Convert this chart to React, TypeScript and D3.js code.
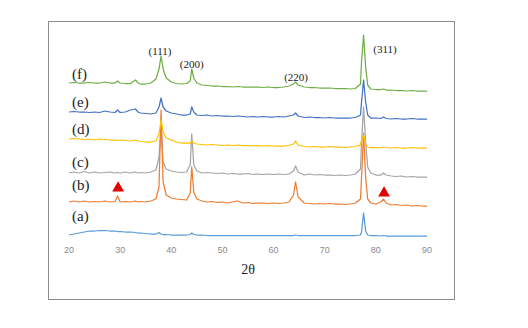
import React from 'react'
import * as d3 from 'd3'

// 2θ sample positions shared by all patterns
const theta = [
  20, 21, 22, 23, 24, 25, 26, 27, 28, 29,
  29.5, 30, 31, 32, 33, 33.5, 34, 35, 36, 37,
  37.6, 38, 38.4, 39, 40, 41, 42, 43, 43.7, 44,
  44.4, 45, 46, 47, 48, 49, 50, 51, 52, 53,
  54, 55, 56, 57, 58, 59, 60, 61, 62, 63,
  63.9, 64.3, 64.8, 66, 67, 68, 69, 70, 71, 72,
  73, 74, 75, 76, 77, 77.2, 77.6, 78, 78.4, 79,
  80, 81, 81.5, 82, 83, 84, 85, 86, 87, 88, 89, 90,
]

// intensities (offset, arbitrary units)
const seriesA = [
  2, 3, 4, 5, 6, 6, 6.5, 6.5, 6, 6,
  5.5, 5.5, 5, 5, 4.5, 4, 4, 3.5, 3, 3,
  4.5, 3, 2.5, 2.5, 2, 2, 2, 2, 2.5, 4,
  2.5, 2, 2, 1.5, 1.5, 1.5, 1.5, 1.5, 1.5, 1.5,
  1.5, 1.5, 1.5, 1.5, 1.5, 1.5, 1.5, 1.5, 1.5, 1.5,
  1.5, 2, 1.5, 1.5, 1.5, 1.5, 1.5, 1.5, 1.5, 1.5,
  1.5, 1.5, 1.5, 1.5, 2, 5, 24, 6, 2, 1.5,
  1.5, 1, 1.5, 1, 1, 1, 1, 1, 1, 1, 1, 1,
]
const seriesB = [
  35, 36, 35, 36, 35, 35.5, 35, 36, 35, 35.5,
  41, 35, 35.5, 35, 36, 35, 35.5, 35, 36, 38,
  50, 127, 55, 42, 39, 38, 37.5, 37, 44, 70,
  45, 38, 36, 35, 35.5, 34.5, 35, 34, 35, 36,
  34, 34.5, 33.5, 34, 34, 33.5, 34, 33.5, 34, 35,
  42, 55, 40, 34, 33.5, 33, 33.5, 33, 33.5, 33,
  33, 32.5, 33, 34, 38, 60, 104, 60, 38, 34,
  33, 35, 38, 34, 32, 32.5, 31.5, 32, 31, 31.5, 31, 31,
]
const seriesC = [
  64, 65, 64, 65.5, 64, 65, 64, 64.5, 65, 64,
  64.5, 64, 65, 64, 65, 64, 64.5, 64, 65, 67,
  80, 110, 75, 68, 66, 65, 64.5, 65, 72, 103,
  72, 66, 64, 64.5, 64, 63.5, 64, 63, 63.5, 63,
  63, 63.5, 62.5, 63, 62.5, 63, 62.5, 63, 62.5, 63,
  66, 71, 65, 62, 63, 62, 62.5, 62, 62, 61.5,
  62, 61.5, 62, 63, 68, 95, 130, 95, 70, 64,
  62, 62, 64, 62, 61, 60.5, 61, 60, 60.5, 60, 60, 60,
]
const seriesD = [
  98, 98.5, 98, 97.5, 98, 97, 98, 97.5, 97, 97,
  96.5, 97, 96.5, 96, 97, 96, 95.5, 95, 95, 96,
  103, 117, 105, 99, 97, 95, 94, 94, 94, 96,
  94, 93, 92.5, 92, 92.5, 92, 91.5, 92, 91.5, 92,
  91.5, 91.5, 91, 91.5, 91, 91.5, 91, 91, 91, 91.5,
  93, 96, 92, 90.5, 90, 90.5, 90, 90, 90.5, 90,
  90, 89.5, 90, 90.5, 92, 97, 102, 93, 90, 89.5,
  89.5, 89, 90, 89.5, 89, 89.5, 89, 89, 89.5, 89, 89, 89,
]
const seriesE = [
  125, 125.5, 125, 125, 124.5, 125, 124.5, 126, 125, 124.5,
  127, 124.5, 125, 127, 128, 125, 124, 123.5, 123, 124,
  130, 139, 130, 126, 124, 123, 122, 122, 123, 130,
  125, 122, 121.5, 122, 121, 121.5, 121, 121, 120.5, 121,
  120.5, 120, 120.5, 120, 120.5, 120, 120, 120.5, 120, 121,
  122, 124, 121, 119.5, 120, 119.5, 119.5, 119, 119.5, 119,
  119, 119, 119, 119.5, 122, 135, 157, 135, 122, 119,
  119, 118.5, 120, 118.5, 118, 118.5, 118, 118, 118.5, 118, 118, 118,
]
const seriesF = [
  154, 154.5, 154, 154, 154.5, 154, 154, 155, 154, 154,
  156, 154, 153.5, 153.5, 157, 154, 153, 153, 154, 158,
  168, 181, 168, 159, 155, 153.5, 153, 153.5, 156, 168,
  159, 154, 152, 151.5, 151, 151, 150.5, 150.5, 150, 150.5,
  150, 150, 150, 150, 149.5, 150, 149.5, 149.5, 150, 151,
  153, 155, 152, 150, 149.5, 149.5, 149, 149, 149, 148.5,
  148.5, 148.5, 148, 148.5, 153, 175, 202, 170, 152, 148,
  147.5, 147.5, 148, 147, 147, 146.5, 146.5, 146, 146.5, 146, 146, 146,
]

const seriesNames = ['(a)', '(b)', '(c)', '(d)', '(e)', '(f)']
const seriesColors = ['#5b9bd5', '#ed7d31', '#a5a5a5', '#ffc000', '#4472c4', '#70ad47']
const seriesValues = [seriesA, seriesB, seriesC, seriesD, seriesE, seriesF]
const labelLevels = [21, 52, 75, 108, 135, 163]
// draw order so orange sits over gray, as in the source
const drawOrder = [0, 2, 1, 3, 4, 5]

const peakLabels = ['(111)', '(200)', '(220)', '(311)']
const peakTheta = [37.8, 44.0, 64.4, 81.8]
const peakLevel = [186, 173, 160, 188]

const markerTheta = [29.6, 81.6]
const markerLevel = [49, 44]

const xTicks = [20, 30, 40, 50, 60, 70, 80, 90]

const W = 528
const H = 328

export default function App() {
  const x = d3.scaleLinear().domain([20, 90]).range([69, 427])
  const y = d3.scaleLinear().domain([0, 210]).range([237, 27])

  const line = d3.line<number>()
    .x((_, i) => x(theta[i]))
    .y(d => y(d))

  const tri = d3.symbol().type(d3.symbolTriangle).size(60)

  return (
    <svg width={W} height={H} style={{ position: 'absolute', left: 0, top: 0, background: '#fff' }}>
      <rect x={48.5} y={21.5} width={406} height={278} fill="#fff" stroke="#8c8c8c" strokeWidth={1} />

      {drawOrder.map(k => (
        <path key={k} d={line(seriesValues[k]) || ''} fill="none"
          stroke={seriesColors[k]} strokeWidth={1.25} strokeLinejoin="round" />
      ))}

      {seriesNames.map((n, k) => (
        <text key={n} x={x(20.6)} y={y(labelLevels[k])} dy="0.35em"
          fontFamily="'Liberation Serif', 'Times New Roman', serif" fontSize={15} fill="#222">{n}</text>
      ))}

      {peakLabels.map((p, i) => (
        <text key={p} x={x(peakTheta[i])} y={y(peakLevel[i])} dy="0.35em" textAnchor="middle"
          fontFamily="'Liberation Serif', 'Times New Roman', serif" fontSize={11} fill="#222">{p}</text>
      ))}

      {markerTheta.map((t, i) => (
        <path key={i} d={tri() || ''} transform={`translate(${x(t)},${y(markerLevel[i])})`} fill="#e00000" />
      ))}

      {xTicks.map(t => (
        <text key={t} x={x(t)} y={250} dy="0.35em" textAnchor="middle"
          fontFamily="'Liberation Sans', Arial, sans-serif" fontSize={9} fill="#8a8a8a">{t}</text>
      ))}

      <text x={x(55)} y={269} dy="0.35em" textAnchor="middle"
        fontFamily="'Liberation Serif', 'Times New Roman', serif" fontSize={14} fill="#222">2θ</text>
    </svg>
  )
}
